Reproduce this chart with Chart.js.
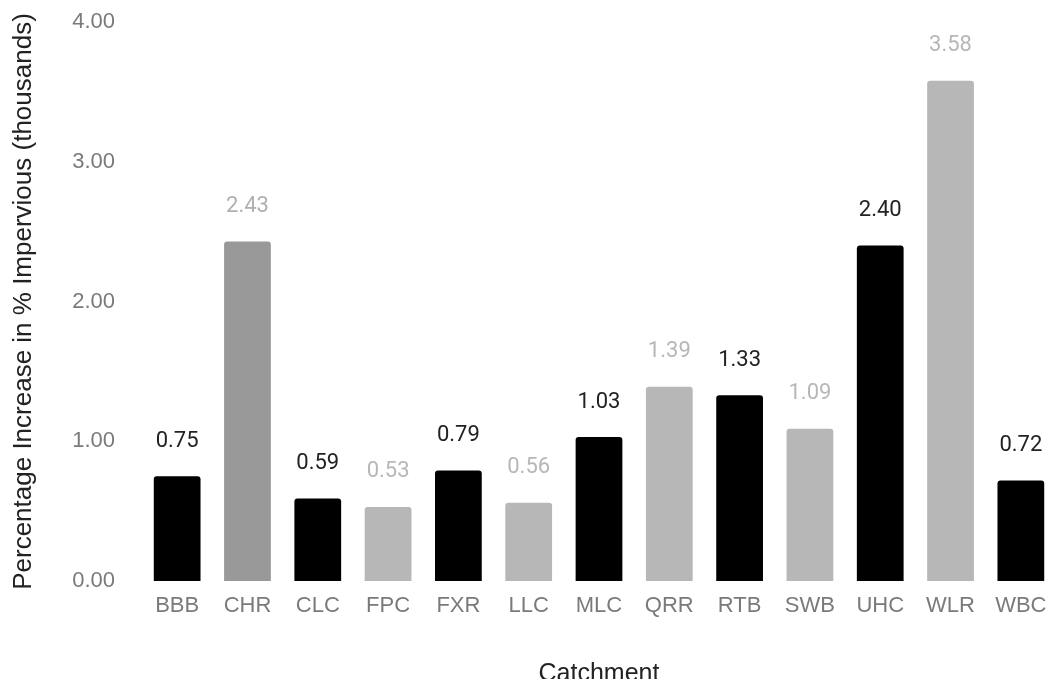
<!DOCTYPE html>
<html><head><meta charset="utf-8">
<script src="https://cdn.jsdelivr.net/npm/chart.js@4"></script>
<style>
html,body{margin:0;padding:0;background:#fff;overflow:hidden;}
#wrap{position:relative;width:1056px;height:700px;}
</style></head>
<body><div id="wrap"><canvas id="c" width="1056" height="700"></canvas></div>
<script>
const categories = ["BBB","CHR","CLC","FPC","FXR","LLC","MLC","QRR","RTB","SWB","UHC","WLR","WBC"];
const values = [0.75,2.43,0.59,0.53,0.79,0.56,1.03,1.39,1.33,1.09,2.40,3.58,0.72];
const barColors = ["#000000","#999999","#000000","#b7b7b7","#000000","#b7b7b7","#000000","#b7b7b7","#000000","#b7b7b7","#000000","#b7b7b7","#000000"];
const labelColors = ["#222222","#b0b0b0","#222222","#b7b7b7","#222222","#b7b7b7","#222222","#b7b7b7","#222222","#b7b7b7","#222222","#b7b7b7","#222222"];
const yTicks = [0,1,2,3,4];

const valueLabels = {
  id:'valueLabels',
  afterDatasetsDraw(chart){
    const ctx = chart.ctx;
    const meta = chart.getDatasetMeta(0);
    ctx.save();
    ctx.font = '400 22px Roboto';
    ctx.textAlign = 'center';
    ctx.textBaseline = 'middle';
    meta.data.forEach((bar,i)=>{
      ctx.fillStyle = labelColors[i];
      ctx.fillText(values[i].toFixed(2), bar.x, bar.y - 35);
    });
    ctx.restore();
  }
};

new Chart(document.getElementById('c'), {
  type:'bar',
  data:{labels:categories, datasets:[{data:values, backgroundColor:barColors, borderRadius:3, borderSkipped:'bottom', barPercentage:0.665, categoryPercentage:1.0}]},
  options:{
    responsive:false, animation:false,
    layout:{padding:{top:22,left:0,right:0,bottom:0}},
    plugins:{legend:{display:false}, tooltip:{enabled:false}},
    scales:{
      x:{
        grid:{display:false, drawTicks:false},
        border:{display:false},
        ticks:{color:'#7a7a7a', font:{family:'Liberation Sans', size:22}, padding:12, maxRotation:0, autoSkip:false},
        title:{display:true, text:'Catchment', color:'#222', font:{family:'Liberation Sans', size:25}, padding:{top:0,bottom:11}},
        afterFit(s){ s.height = 119; s.paddingLeft = 0; s.paddingRight = 0; }
      },
      y:{
        min:0, max:4,
        afterBuildTicks(s){ s.ticks = yTicks.map(v=>({value:v})); },
        grid:{display:false, drawTicks:false},
        border:{display:false},
        ticks:{color:'#7a7a7a', font:{family:'Liberation Sans', size:22}, padding:27, callback:v=>Number(v).toFixed(2)},
        title:{display:true, text:'Percentage Increase in % Impervious (thousands)', color:'#222', font:{family:'Liberation Sans', size:26}, padding:{top:8,bottom:0}},
        afterFit(s){ s.width = 142; s.paddingTop = 0; s.paddingBottom = 0; }
      }
    }
  },
  plugins:[valueLabels]
});
</script></body></html>
